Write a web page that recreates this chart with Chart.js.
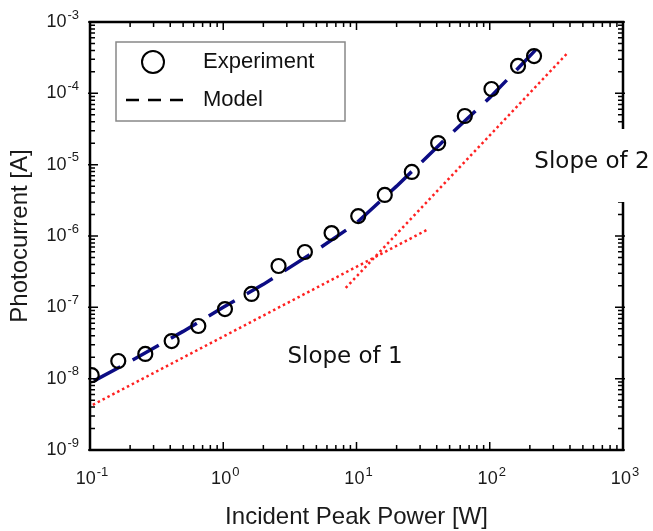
<!DOCTYPE html>
<html>
<head>
<meta charset="utf-8">
<script src="https://cdn.jsdelivr.net/npm/chart.js@4.4.0/dist/chart.umd.min.js"></script>
<style>
  html, body { margin: 0; padding: 0; background: #fff; }
  #wrap { width: 653px; height: 531px; }
</style>
</head>
<body>
<div id="wrap"><canvas id="chart" width="653" height="531"></canvas></div>
<script>
// Photocurrent vs incident peak power, log-log

const expPower = [0.103, 0.163, 0.26, 0.41, 0.65, 1.03, 1.63, 2.6, 4.1, 6.5, 10.3, 16.3, 26, 41, 65, 103, 163, 215];
const expCurrent = [1.12e-8, 1.77e-8, 2.22e-8, 3.37e-8, 5.47e-8, 9.46e-8, 1.54e-7, 3.8e-7, 5.97e-7, 1.1e-6, 1.9e-6, 3.76e-6, 7.9e-6, 2.01e-5, 4.81e-5, 1.15e-4, 2.42e-4, 3.33e-4];

const modelPower = [0.107, 0.2, 0.5, 1, 2, 5, 10, 20, 50, 100, 150, 222];
const modelCurrent = [9.3e-9, 1.74e-8, 4.6e-8, 1.0e-7, 2.1e-7, 6.3e-7, 1.52e-6, 5.0e-6, 2.6e-5, 8.7e-5, 1.9e-4, 4.1e-4];

const slope1Power = [0.105, 35];
const slope1Current = [4.3e-9, 1.26e-6];
const slope2Power = [8.3, 385];
const slope2Current = [1.87e-7, 3.7e-4];

const xDecades = [-1, 0, 1, 2, 3];
const yDecades = [-9, -8, -7, -6, -5, -4, -3];

const AXIS_FONT = "'Liberation Sans', Arial, sans-serif";
const NOTE_FONT = "'DejaVu Sans', Verdana, sans-serif";

function pts(xs, ys) {
    return xs.map((x, i) => ({ x, y: ys[i] }));
}

// "10" with a raised exponent
function drawPow(ctx, exp, x, y, align) {
    const base = '10';
    const sup = String(exp);
    ctx.font = '18px ' + AXIS_FONT;
    const wb = ctx.measureText(base).width;
    ctx.font = '13px ' + AXIS_FONT;
    const we = ctx.measureText(sup).width;
    const total = wb + 1 + we;
    const x0 = align === 'right' ? x - total : x - total / 2;
    ctx.textAlign = 'left';
    ctx.textBaseline = 'middle';
    ctx.font = '18px ' + AXIS_FONT;
    ctx.fillText(base, x0, y);
    ctx.font = '13px ' + AXIS_FONT;
    ctx.fillText(sup, x0 + wb + 1, y - 7);
}

const frame = {
    id: 'frame',
    beforeDraw(chart) {
        const { ctx, width, height } = chart;
        ctx.save();
        ctx.fillStyle = '#fff';
        ctx.fillRect(0, 0, width, height);
        ctx.restore();
    },
    afterDatasetsDraw(chart) {
        const { ctx, chartArea: a, scales } = chart;
        const sx = scales.x, sy = scales.y;
        ctx.save();
        ctx.strokeStyle = '#000';
        ctx.fillStyle = '#1a1a1a';

        // ticks, inward on all four sides
        ctx.lineWidth = 1.5;
        ctx.beginPath();
        for (let i = 0; i < xDecades.length; i++) {
            const d = xDecades[i];
            const px = sx.getPixelForValue(Math.pow(10, d));
            ctx.moveTo(px, a.bottom); ctx.lineTo(px, a.bottom - 8);
            ctx.moveTo(px, a.top); ctx.lineTo(px, a.top + 8);
            if (i === xDecades.length - 1) break;
            for (let k = 2; k <= 9; k++) {
                const p = sx.getPixelForValue(k * Math.pow(10, d));
                ctx.moveTo(p, a.bottom); ctx.lineTo(p, a.bottom - 5);
                ctx.moveTo(p, a.top); ctx.lineTo(p, a.top + 5);
            }
        }
        for (let i = 0; i < yDecades.length; i++) {
            const d = yDecades[i];
            const py = sy.getPixelForValue(Math.pow(10, d));
            ctx.moveTo(a.left - 2, py); ctx.lineTo(a.left + 8, py);
            ctx.moveTo(a.right + 2, py); ctx.lineTo(a.right - 8, py);
            if (i === yDecades.length - 1) break;
            for (let k = 2; k <= 9; k++) {
                const p = sy.getPixelForValue(k * Math.pow(10, d));
                ctx.moveTo(a.left, p); ctx.lineTo(a.left + 5, p);
                ctx.moveTo(a.right, p); ctx.lineTo(a.right - 5, p);
            }
        }
        ctx.stroke();

        ctx.lineWidth = 2.5;
        ctx.strokeRect(a.left, a.top, a.right - a.left, a.bottom - a.top);

        // tick labels
        xDecades.forEach(d => {
            drawPow(ctx, d, sx.getPixelForValue(Math.pow(10, d)) + 2, a.bottom + 29, 'center');
        });
        yDecades.forEach(d => {
            drawPow(ctx, d, a.left - 11, sy.getPixelForValue(Math.pow(10, d)), 'right');
        });

        // axis titles
        ctx.fillStyle = '#1a1a1a';
        ctx.font = '24px ' + AXIS_FONT;
        ctx.textAlign = 'center';
        ctx.textBaseline = 'middle';
        ctx.fillText('Incident Peak Power [W]', (a.left + a.right) / 2, 517);
        ctx.save();
        ctx.translate(20, (a.top + a.bottom) / 2);
        ctx.rotate(-Math.PI / 2);
        ctx.fillText('Photocurrent [A]', 0, 0);
        ctx.restore();

        // slope notes on white boxes
        const notes = [
            { text: 'Slope of 2', x: 585, y: 1.09e-5, box: [-87, -33, 148, 73] },
            { text: 'Slope of 1', x: 8.2, y: 2.0e-8, box: [-68, -30, 136, 62] },
        ];
        notes.forEach(n => {
            const px = sx.getPixelForValue(n.x);
            const py = sy.getPixelForValue(n.y);
            ctx.fillStyle = '#fff';
            ctx.fillRect(px + n.box[0], py + n.box[1], n.box[2], n.box[3]);
            ctx.fillStyle = '#111';
            ctx.font = '23px ' + NOTE_FONT;
            ctx.textAlign = 'center';
            ctx.textBaseline = 'middle';
            ctx.fillText(n.text, px, py);
        });

        // legend
        const lx = 116, ly = 42, lw = 229, lh = 79;
        ctx.fillStyle = '#fff';
        ctx.fillRect(lx, ly, lw, lh);
        ctx.strokeStyle = '#888';
        ctx.lineWidth = 1.5;
        ctx.strokeRect(lx, ly, lw, lh);
        ctx.strokeStyle = '#000';
        ctx.lineWidth = 2;
        ctx.beginPath();
        ctx.arc(153, 62, 11, 0, Math.PI * 2);
        ctx.stroke();
        ctx.lineWidth = 2.5;
        ctx.setLineDash([13, 9]);
        ctx.beginPath();
        ctx.moveTo(126, 100);
        ctx.lineTo(184, 100);
        ctx.stroke();
        ctx.setLineDash([]);
        ctx.fillStyle = '#111';
        ctx.font = '22px ' + AXIS_FONT;
        ctx.textAlign = 'left';
        ctx.textBaseline = 'middle';
        ctx.fillText(chart.data.datasets[0].label, 203, 62);
        ctx.fillText(chart.data.datasets[1].label, 203, 100);

        ctx.restore();
    }
};

new Chart(document.getElementById('chart'), {
    type: 'scatter',
    data: {
        datasets: [
            {
                label: 'Experiment',
                data: pts(expPower, expCurrent),
                showLine: false,
                pointStyle: 'circle',
                pointRadius: 7,
                borderColor: '#000',
                borderWidth: 2.2,
                backgroundColor: 'rgba(0,0,0,0)',
            },
            {
                label: 'Model',
                data: pts(modelPower, modelCurrent),
                showLine: true,
                pointRadius: 0,
                borderColor: '#0c0c84',
                borderWidth: 3.5,
                borderDash: [30, 14],
                tension: 0,
            },
            {
                label: 'Slope 1',
                data: pts(slope1Power, slope1Current),
                showLine: true,
                pointRadius: 0,
                borderColor: '#ff2020',
                borderWidth: 2.5,
                borderDash: [2.5, 3],
            },
            {
                label: 'Slope 2',
                data: pts(slope2Power, slope2Current),
                showLine: true,
                pointRadius: 0,
                borderColor: '#ff2020',
                borderWidth: 2.5,
                borderDash: [2.5, 3],
            },
        ],
    },
    options: {
        responsive: false,
        animation: false,
        devicePixelRatio: 1,
        layout: { padding: { left: 90, top: 22, right: 30, bottom: 81 } },
        scales: {
            x: { type: 'logarithmic', min: 0.1, max: 1000, display: false },
            y: { type: 'logarithmic', min: 1e-9, max: 1e-3, display: false },
        },
        plugins: {
            legend: { display: false },
            tooltip: { enabled: false },
        },
    },
    plugins: [frame],
});
</script>
</body>
</html>
